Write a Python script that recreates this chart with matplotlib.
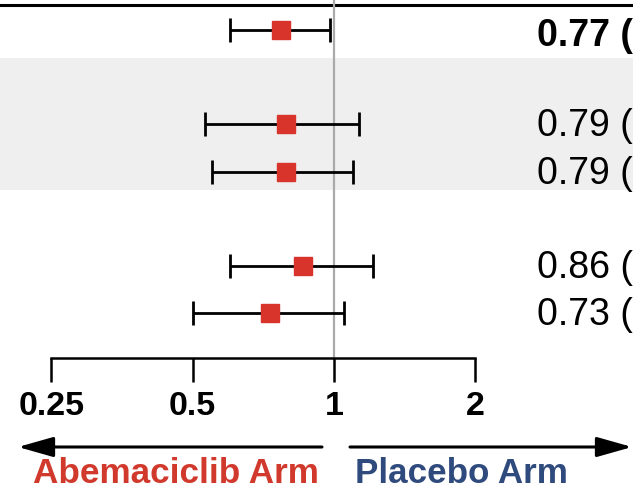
import matplotlib
matplotlib.use("Agg")
import matplotlib.pyplot as plt
import matplotlib.transforms as mtransforms

plt.rcParams['font.family'] = ['Liberation Sans', 'DejaVu Sans']

# ---- data ----
rows = [0, 2, 3, 5, 6]
hr = [0.77, 0.79, 0.79, 0.86, 0.73]
ci_lo = [0.60, 0.53, 0.55, 0.60, 0.50]
ci_hi = [0.98, 1.13, 1.10, 1.21, 1.05]
hr_labels = ["0.77 (0.60-0.98)", "0.79 (0.53-1.13)", "0.79 (0.55-1.10)",
             "0.86 (0.60-1.21)", "0.73 (0.50-1.05)"]
label_bold = [True, False, False, False, False]
xticks = [0.25, 0.5, 1, 2]
xtick_labels = ["0.25", "0.5", "1", "2"]
left_label = "Abemaciclib Arm"
right_label = "Placebo Arm"

W, H = 633, 487
fig = plt.figure(figsize=(W / 100, H / 100), dpi=100)
ax = fig.add_axes([0, 0, 1, 1])
ax.set_xscale('log', base=2)
px_per_log2 = 141.3
x1_px = 334
ax.set_xlim(2 ** (-x1_px / px_per_log2), 2 ** ((W - x1_px) / px_per_log2))
row0_px, row_step = 30, 47.2
ax.set_ylim((H - row0_px) / row_step, -row0_px / row_step)
ax.patch.set_alpha(0)

# shaded band and top rule
ax.axhspan(0.6, 3.4, color='#efefef', zorder=0, lw=0)
ax.axhline(-0.53, color='black', lw=2.2, zorder=1)

axis_y = 6.95
ax.plot([1, 1], [-1, axis_y], color='#aaaaaa', lw=1.6, zorder=1)

lo_err = [h - l for h, l in zip(hr, ci_lo)]
hi_err = [u - h for h, u in zip(hr, ci_hi)]
ax.errorbar(hr, rows, xerr=[lo_err, hi_err], fmt='none', ecolor='black',
            elinewidth=2.0, capsize=8.5, capthick=2.0, zorder=3)
ax.plot(hr, rows, 's', color='#d9342b', markersize=12.3, zorder=4)

# HR text at right
trans = mtransforms.blended_transform_factory(ax.transAxes, ax.transData)
for r, lab, b in zip(rows, hr_labels, label_bold):
    off = (16 if b else 12) / row_step
    ax.text(537 / W, r + off, lab, transform=trans, ha='left', va='baseline',
            fontsize=27, fontweight='bold' if b else 'normal', color='black')

# axis
for s in ['top', 'left', 'right']:
    ax.spines[s].set_visible(False)
ax.spines['bottom'].set_position(('data', axis_y))
ax.spines['bottom'].set_bounds(0.25, 2)
ax.spines['bottom'].set_linewidth(1.8)
ax.set_xticks(xticks)
ax.set_xticklabels(xtick_labels, fontweight='bold')
ax.xaxis.set_minor_locator(matplotlib.ticker.NullLocator())
ax.tick_params(axis='x', direction='out', length=17, width=1.8, pad=7,
               labelsize=24.5)
ax.set_yticks([])

# arrows
ay = 1 - 447 / H
style = '-|>,head_length=0.6,head_width=0.17'
ax.annotate('', xy=(18 / W, ay), xytext=(322 / W, ay), xycoords='axes fraction',
            arrowprops=dict(arrowstyle=style, lw=2.2, color='black',
                            mutation_scale=36, shrinkA=0, shrinkB=0))
ax.annotate('', xy=(632 / W, ay), xytext=(350 / W, ay), xycoords='axes fraction',
            arrowprops=dict(arrowstyle=style, lw=2.2, color='black',
                            mutation_scale=36, shrinkA=0, shrinkB=0))

ax.text(33 / W, 1 - 483 / H, left_label, transform=ax.transAxes, ha='left',
        va='baseline', fontsize=25.3, fontweight='bold', color='#d0392b')
ax.text(355 / W, 1 - 483 / H, right_label, transform=ax.transAxes, ha='left',
        va='baseline', fontsize=25.2, fontweight='bold', color='#2f4a7c')

fig.savefig('out.png', dpi=100)
